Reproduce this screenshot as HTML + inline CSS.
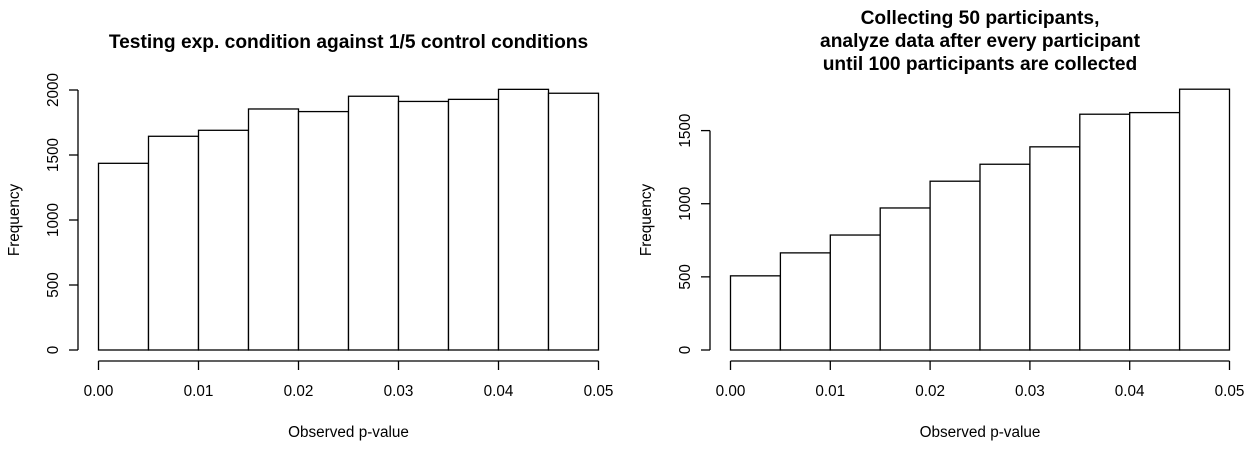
<!DOCTYPE html>
<html><head><meta charset="utf-8"><style>
html,body{margin:0;padding:0;background:#fff;}
svg{display:block;font-family:"Liberation Sans",Arial,sans-serif;}
</style></head><body>
<svg id="c" width="1255" height="459" viewBox="0 0 1255 459"></svg>
<script>
const leftCounts = [1436, 1644, 1690, 1854, 1834, 1952, 1912, 1928, 2005, 1975];
const rightCounts = [507, 664, 786, 971, 1154, 1270, 1389, 1612, 1623, 1783];
const xTicks = [0, 0.01, 0.02, 0.03, 0.04, 0.05];
const xTickLabels = ["0.00","0.01","0.02","0.03","0.04","0.05"];
const leftYTicks = [0, 500, 1000, 1500, 2000];
const rightYTicks = [0, 500, 1000, 1500];
const binWidth = 0.005;

const svg = document.getElementById('c');
const NS = 'http://www.w3.org/2000/svg';
function mk(tag, attrs, parent){
  const e = document.createElementNS(NS, tag);
  for (const k in attrs) e.setAttribute(k, attrs[k]);
  (parent||svg).appendChild(e);
  return e;
}
const FS = 'font-size:15.3px';
function panel(cfg, counts, yTicks, titleLines, prefix){
  const g = mk('g', {});
  
  
  const xs = v => cfg.x0 + (v / 0.05) * (cfg.x1 - cfg.x0);
  const ys = v => cfg.y0 - v * cfg.k;
  counts.forEach((c, i) => {
    const r = mk('rect', {x: xs(i*binWidth), y: ys(c), width: xs((i+1)*binWidth) - xs(i*binWidth), height: ys(0) - ys(c), fill:'#fff', stroke:'#000', 'stroke-width':1.3}, g);
    
    
  });
  const ya = mk('line', {x1: cfg.ax, x2: cfg.ax, y1: ys(yTicks[0]), y2: ys(yTicks[yTicks.length-1]), stroke:'#000','stroke-width':1.3}, g);
  
  
  yTicks.forEach(t => {
    mk('line', {x1: cfg.ax - 9, x2: cfg.ax, y1: ys(t), y2: ys(t), stroke:'#000','stroke-width':1.3}, g);
    const tx = mk('text', {x: 0, y: 0, style: FS, 'text-anchor':'middle', transform:`translate(${cfg.ax-20},${ys(t)}) rotate(-90)`, fill:'#000'}, g);
    tx.textContent = String(t);
    
    
  });
  const xa = mk('line', {x1: xs(0), x2: xs(0.05), y1: 361, y2: 361, stroke:'#000','stroke-width':1.3}, g);
  
  
  xTicks.forEach((t, i) => {
    mk('line', {x1: xs(t), x2: xs(t), y1: 361, y2: 370, stroke:'#000','stroke-width':1.3}, g);
    const tx = mk('text', {x: xs(t), y: 396, style: FS, 'text-anchor':'middle', fill:'#000'}, g);
    tx.textContent = xTickLabels[i];
    
    
  });
  const xl = mk('text', {x: (xs(0)+xs(0.05))/2, y: 437, style: FS, 'text-anchor':'middle'}, g);
  xl.textContent = 'Observed p-value';
  
  
  const yl = mk('text', {x:0, y:0, style: FS, 'text-anchor':'middle', transform:`translate(${cfg.ylx},220) rotate(-90)`}, g);
  yl.textContent = 'Frequency';
  
  
  titleLines.forEach((s, i) => {
    const tt = mk('text', {x: (xs(0)+xs(0.05))/2, y: cfg.ty + i*23, style:'font-size:19.2px', 'font-weight':'bold', 'text-anchor':'middle'}, g);
    tt.textContent = s;
    
    
  });
}
panel({x0:98.5, x1:598.5, y0:350, k:0.13, ax:78, ylx:19, ty:48}, leftCounts, leftYTicks,
  ["Testing exp. condition against 1/5 control conditions"], 'left');
panel({x0:730.5, x1:1229.5, y0:350, k:0.14627, ax:710, ylx:651, ty:24}, rightCounts, rightYTicks,
  ["Collecting 50 participants,", "analyze data after every participant", "until 100 participants are collected"], 'right');
</script>
</body></html>
